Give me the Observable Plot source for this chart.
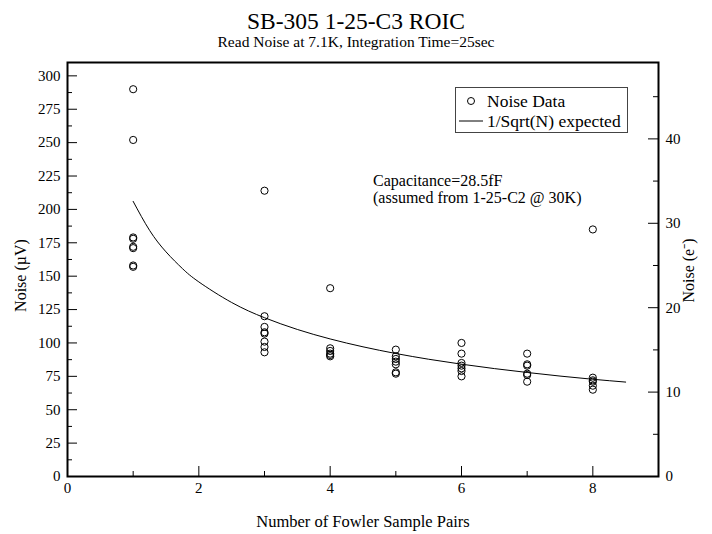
<!DOCTYPE html>
<html><head><meta charset="utf-8">
<script src="https://cdn.jsdelivr.net/npm/d3@7"></script>
<script src="https://cdn.jsdelivr.net/npm/@observablehq/plot@0.6"></script>
<style>
body{margin:0;background:#fff;font-family:"Liberation Serif","Times New Roman",serif;color:#000;}
#wrap{position:relative;width:712px;height:534px;overflow:hidden;}
#head{position:relative;height:56px;}
#title{position:absolute;left:0;width:712px;top:8px;text-align:center;font-size:23.5px;line-height:26px;}
#sub{position:absolute;left:0;width:712px;top:33px;text-align:center;font-size:15.5px;line-height:18px;}
#legend{position:absolute;left:455px;top:87px;width:173px;height:46px;border:1px solid #444;box-sizing:border-box;background:#fff;font-size:17.5px;}
#legend .row{position:absolute;left:0;height:20px;line-height:20px;white-space:nowrap;}
#legend svg{position:absolute;left:0;top:0;}
#note{position:absolute;left:373px;top:172px;font-size:16px;line-height:17px;white-space:nowrap;}
</style></head><body>
<div id="wrap">
  <div id="head">
    <div id="title">SB-305 1-25-C3 ROIC</div>
    <div id="sub">Read Noise at 7.1K, Integration Time=25sec</div>
  </div>
  <div id="chart"></div>
  <div id="legend">
    <svg width="30" height="46"><circle cx="15" cy="13" r="3.5" fill="none" stroke="#000"/><line x1="3" y1="33" x2="27" y2="33" stroke="#000"/></svg>
    <div class="row" style="left:31px;top:3px">Noise Data</div>
    <div class="row" style="left:31px;top:23px">1/Sqrt(N) expected</div>
  </div>
  <div id="note">Capacitance=28.5fF<br>(assumed from 1-25-C2 @ 30K)</div>
</div>
<script>
// ---- data ----
const noiseAt1 = [290, 252, 179, 178, 172, 171, 158, 157];
const noiseAt3 = [214, 120, 112, 108, 107, 101, 97, 93];
const noiseAt4 = [141, 96, 94, 92, 91, 90];
const noiseAt5 = [95, 90, 88, 86, 84, 78, 77];
const noiseAt6 = [100, 92, 85, 83, 81, 79, 75];
const noiseAt7 = [92, 84, 83, 77, 76, 71];
const noiseAt8 = [185, 74, 72, 71, 68, 65];
const pairCounts = [1, 3, 4, 5, 6, 7, 8];

// expected 1/sqrt(N) curve
const expectedN = [1, 1.25, 1.5, 1.75, 2, 2.5, 3, 3.5, 4, 4.5, 5, 5.5, 6, 6.5, 7, 7.5, 8, 8.5];
const expectedNoise = [206, 184.3, 168.2, 155.7, 145.7, 130.3, 118.9, 110.1, 103, 97.1, 92.1, 87.8, 84.1, 80.8, 77.9, 75.2, 72.8, 70.7];

// axis ticks
const xTicks = [0, 2, 4, 6, 8];
const xMinorTicks = [1, 3, 5, 7];
const uvTicks = [0, 25, 50, 75, 100, 125, 150, 175, 200, 225, 250, 275, 300];
const uvMinorTicks = [12.5, 37.5, 62.5, 87.5, 112.5, 137.5, 162.5, 187.5, 212.5, 237.5, 262.5, 287.5];
const eTicks = [0, 10, 20, 30, 40];
const eMinorTicks = [5, 15, 25, 35, 45];
const uvPerElectron = 6.32;

// ---- build table ----
const series = [noiseAt1, noiseAt3, noiseAt4, noiseAt5, noiseAt6, noiseAt7, noiseAt8];
const points = [];
series.forEach((vals, i) => vals.forEach(v => points.push({n: pairCounts[i], noise: v})));
const curve = expectedN.map((n, i) => ({n, noise: expectedNoise[i]}));

const W = 712, H = 478;
const mL = 67, mR = 54, mT = 6, mB = 58;
const innerW = W - mL - mR, innerH = H - mT - mB;
const major = 10, minor = 5;
const serif = '"Liberation Serif","Times New Roman",serif';

const chart = Plot.plot({
  width: W, height: H,
  marginLeft: mL, marginRight: mR, marginTop: mT, marginBottom: mB,
  style: {fontFamily: serif, fontSize: "15px", color: "#000", background: "#fff"},
  x: {domain: [0, 9]},
  y: {domain: [0, 310]},
  marks: [
    // inward ticks
    Plot.tickY(uvTicks, {y: d => d, insetRight: innerW - major, stroke: "#000"}),
    Plot.tickY(uvMinorTicks, {y: d => d, insetRight: innerW - minor, stroke: "#000"}),
    Plot.tickY(eTicks.map(e => e * uvPerElectron), {y: d => d, insetLeft: innerW - major, stroke: "#000"}),
    Plot.tickY(eMinorTicks.map(e => e * uvPerElectron), {y: d => d, insetLeft: innerW - minor, stroke: "#000"}),
    Plot.tickX(xTicks, {x: d => d, insetTop: innerH - major, stroke: "#000"}),
    Plot.tickX(xMinorTicks, {x: d => d, insetTop: innerH - minor, stroke: "#000"}),
    // tick labels
    Plot.axisY(uvTicks, {anchor: "left", tickSize: 0, tickPadding: 7, label: null, fontFamily: serif, fontSize: 15}),
    Plot.axisY(eTicks.map(e => e * uvPerElectron), {anchor: "right", tickSize: 0, tickPadding: 7, label: null,
      fontFamily: serif, fontSize: 15, tickFormat: d => String(Math.round(d / uvPerElectron))}),
    Plot.axisX(xTicks, {anchor: "bottom", tickSize: 0, tickPadding: 6, label: null, fontFamily: serif, fontSize: 15}),
    // axis titles
    Plot.text(["Noise (µV)"], {frameAnchor: "left", dx: -47, dy: 6, rotate: -90, fontSize: 16, fontFamily: serif, textAnchor: "middle", lineAnchor: "middle"}),
    Plot.text(["Noise (e⁻)"], {frameAnchor: "right", dx: 30, dy: 1, rotate: -90, fontSize: 16, fontFamily: serif, textAnchor: "middle", lineAnchor: "middle"}),
    Plot.text(["Number of Fowler Sample Pairs"], {frameAnchor: "bottom", dy: 50, fontSize: 16.5, fontFamily: serif}),
    // data
    Plot.line(curve, {x: "n", y: "noise", stroke: "#000", strokeWidth: 1, curve: "natural"}),
    Plot.dot(points, {x: "n", y: "noise", r: 3.6, stroke: "#000", strokeWidth: 1, fill: "none"}),
    Plot.frame({stroke: "#000", strokeWidth: 2})
  ]
});
document.getElementById("chart").appendChild(chart);
</script>
</body></html>
